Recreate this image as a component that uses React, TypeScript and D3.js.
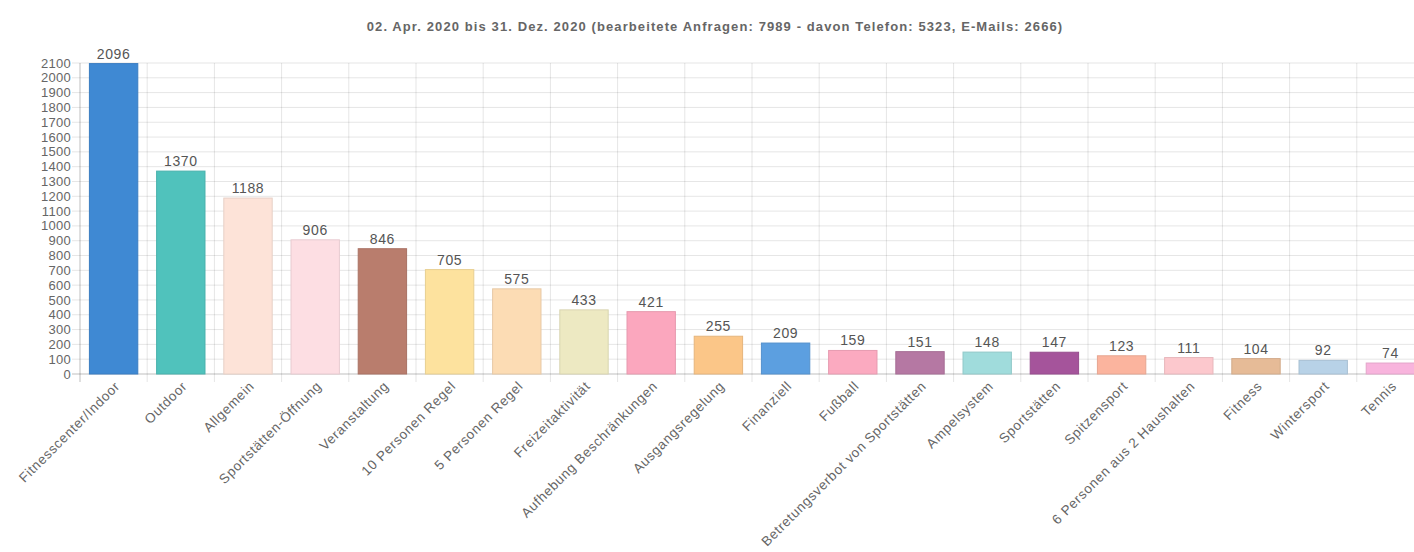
import React from "react";
import { scaleBand, scaleLinear, range, color } from "d3";

const title =
  "02. Apr. 2020 bis 31. Dez. 2020 (bearbeitete Anfragen: 7989 - davon Telefon: 5323, E-Mails: 2666)";

const categories = [
  "Fitnesscenter/Indoor",
  "Outdoor",
  "Allgemein",
  "Sportstätten-Öffnung",
  "Veranstaltung",
  "10 Personen Regel",
  "5 Personen Regel",
  "Freizeitaktivität",
  "Aufhebung Beschränkungen",
  "Ausgangsregelung",
  "Finanziell",
  "Fußball",
  "Betretungsverbot von Sportstätten",
  "Ampelsystem",
  "Sportstätten",
  "Spitzensport",
  "6 Personen aus 2 Haushalten",
  "Fitness",
  "Wintersport",
  "Tennis",
];

const values = [
  2096, 1370, 1188, 906, 846, 705, 575, 433, 421, 255, 209, 159, 151, 148, 147,
  123, 111, 104, 92, 74,
];

const barColors = [
  "#3f89d3",
  "#50c2bc",
  "#fde3d8",
  "#fddee3",
  "#b97d6d",
  "#fde29e",
  "#fcdcb4",
  "#ede9c2",
  "#fba7be",
  "#fbc688",
  "#5c9fe0",
  "#fbaac0",
  "#b578a3",
  "#a0dcdc",
  "#a5549b",
  "#fbb49e",
  "#fcc8cd",
  "#e6bb97",
  "#b8d2e7",
  "#f8b4dd",
];

const yTicks = range(0, 2101, 100);

const width = 1414;
const height = 552;
const left = 80;
const right = 1424;
const top = 63;
const bottom = 374;
const font = "'Liberation Sans', Arial, Helvetica, sans-serif";

export default function App() {
  const x = scaleBand<string>()
    .domain(categories)
    .range([left, right])
    .paddingInner(0.28)
    .paddingOuter(0.14);
  const y = scaleLinear().domain([0, 2100]).range([bottom, top]);

  const gap = (x.step() - x.bandwidth()) / 2;
  const bounds = categories.map((c) => (x(c) as number) - gap);
  bounds.push(right);

  return (
    <svg
      width={width}
      height={height}
      style={{ position: "absolute", left: 0, top: 0, background: "#fff" }}
      fontFamily={font}
    >
      <text
        x={width / 2 + 8}
        y={31}
        textAnchor="middle"
        fontSize={13}
        fontWeight="bold"
        letterSpacing={1.1}
        fill="#666"
      >
        {title}
      </text>

      {/* horizontal grid + y ticks */}
      {yTicks.map((t) => (
        <g key={t}>
          <line
            x1={left - 8}
            x2={right}
            y1={y(t)}
            y2={y(t)}
            stroke={t === 0 ? "rgba(0,0,0,0.25)" : "rgba(0,0,0,0.1)"}
          />
          <text
            x={left - 9}
            y={y(t)}
            dy="0.35em"
            textAnchor="end"
            fontSize={13}
            letterSpacing={0.3}
            fill="#666"
          >
            {t}
          </text>
        </g>
      ))}

      {/* vertical grid at category boundaries */}
      {bounds.map((b, i) => (
        <line
          key={i}
          x1={b}
          x2={b}
          y1={top}
          y2={bottom + 8}
          stroke={i === 0 ? "rgba(0,0,0,0.25)" : "rgba(0,0,0,0.1)"}
        />
      ))}

      {categories.map((c, i) => {
        const bx = x(c) as number;
        const cx = bx + x.bandwidth() / 2;
        const v = values[i];
        const fill = barColors[i];
        const stroke = color(fill)?.darker(0.25).formatHex() ?? fill;
        return (
          <g key={c}>
            <rect
              x={bx}
              y={y(v)}
              width={x.bandwidth()}
              height={bottom - y(v)}
              fill={fill}
              stroke={stroke}
              strokeWidth={1}
            />
            <text
              x={cx}
              y={y(v) - 5}
              textAnchor="middle"
              fontSize={14}
              letterSpacing={0.6}
              fill="#555"
            >
              {v}
            </text>
            <text
              transform={`translate(${cx + 7},${bottom + 13}) rotate(-45)`}
              textAnchor="end"
              fontSize={13.5}
              letterSpacing={0.65}
              fill="#666"
            >
              {c}
            </text>
          </g>
        );
      })}
    </svg>
  );
}
